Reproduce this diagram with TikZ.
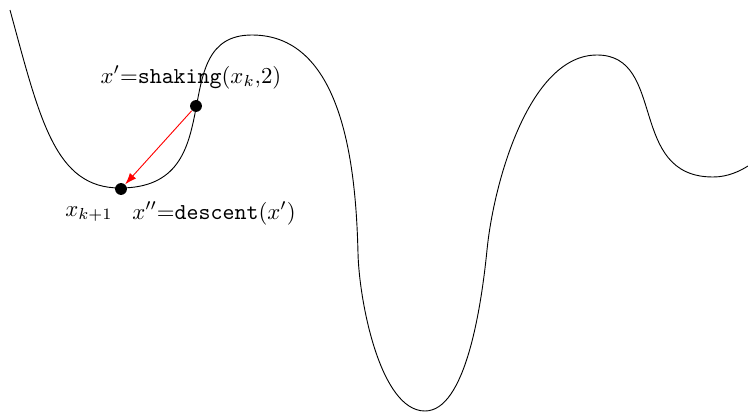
\documentclass[tikz,border=0pt]{standalone}
\usetikzlibrary{arrows.meta}
\begin{document}
\begin{tikzpicture}[x=0.4385pt,y=-0.4385pt,
  dotnode/.style={circle,fill=black,inner sep=0pt,minimum size=5.2pt},
  lbl/.style={inner sep=0pt,anchor=base}]
\useasboundingbox (0,0) rectangle (748,412);
\draw[line width=0.4pt] (10,10)
  .. controls (40,120) and (55,188) .. (120,188)
  .. controls (235,188) and (162,35) .. (252,35)
  .. controls (345,35) and (356,173) .. (358,253)
  .. controls (359,300) and (380,411) .. (425,411)
  .. controls (465,411) and (481,310) .. (487,250)
  .. controls (494,180) and (530,55) .. (597,55)
  .. controls (667,55) and (627,177) .. (713,177)
  .. controls (728,177) and (740,171) .. (748,166);
\node[dotnode] (xp) at (196,106) {};
\node[dotnode] (xpp) at (121,189) {};
\draw[red,-{Latex[length=5pt,width=3.6pt]}] (xp) -- (xpp);
\node[lbl] (lshake) at (191,83) {$x'{=}\texttt{shaking}(x_k{,}2)$};
\node[lbl] (lk) at (89,216) {$x_{k+1}$};
\node[lbl] (ldesc) at (214,219) {$x''{=}\texttt{descent}(x')$};
\end{tikzpicture}
\end{document}
